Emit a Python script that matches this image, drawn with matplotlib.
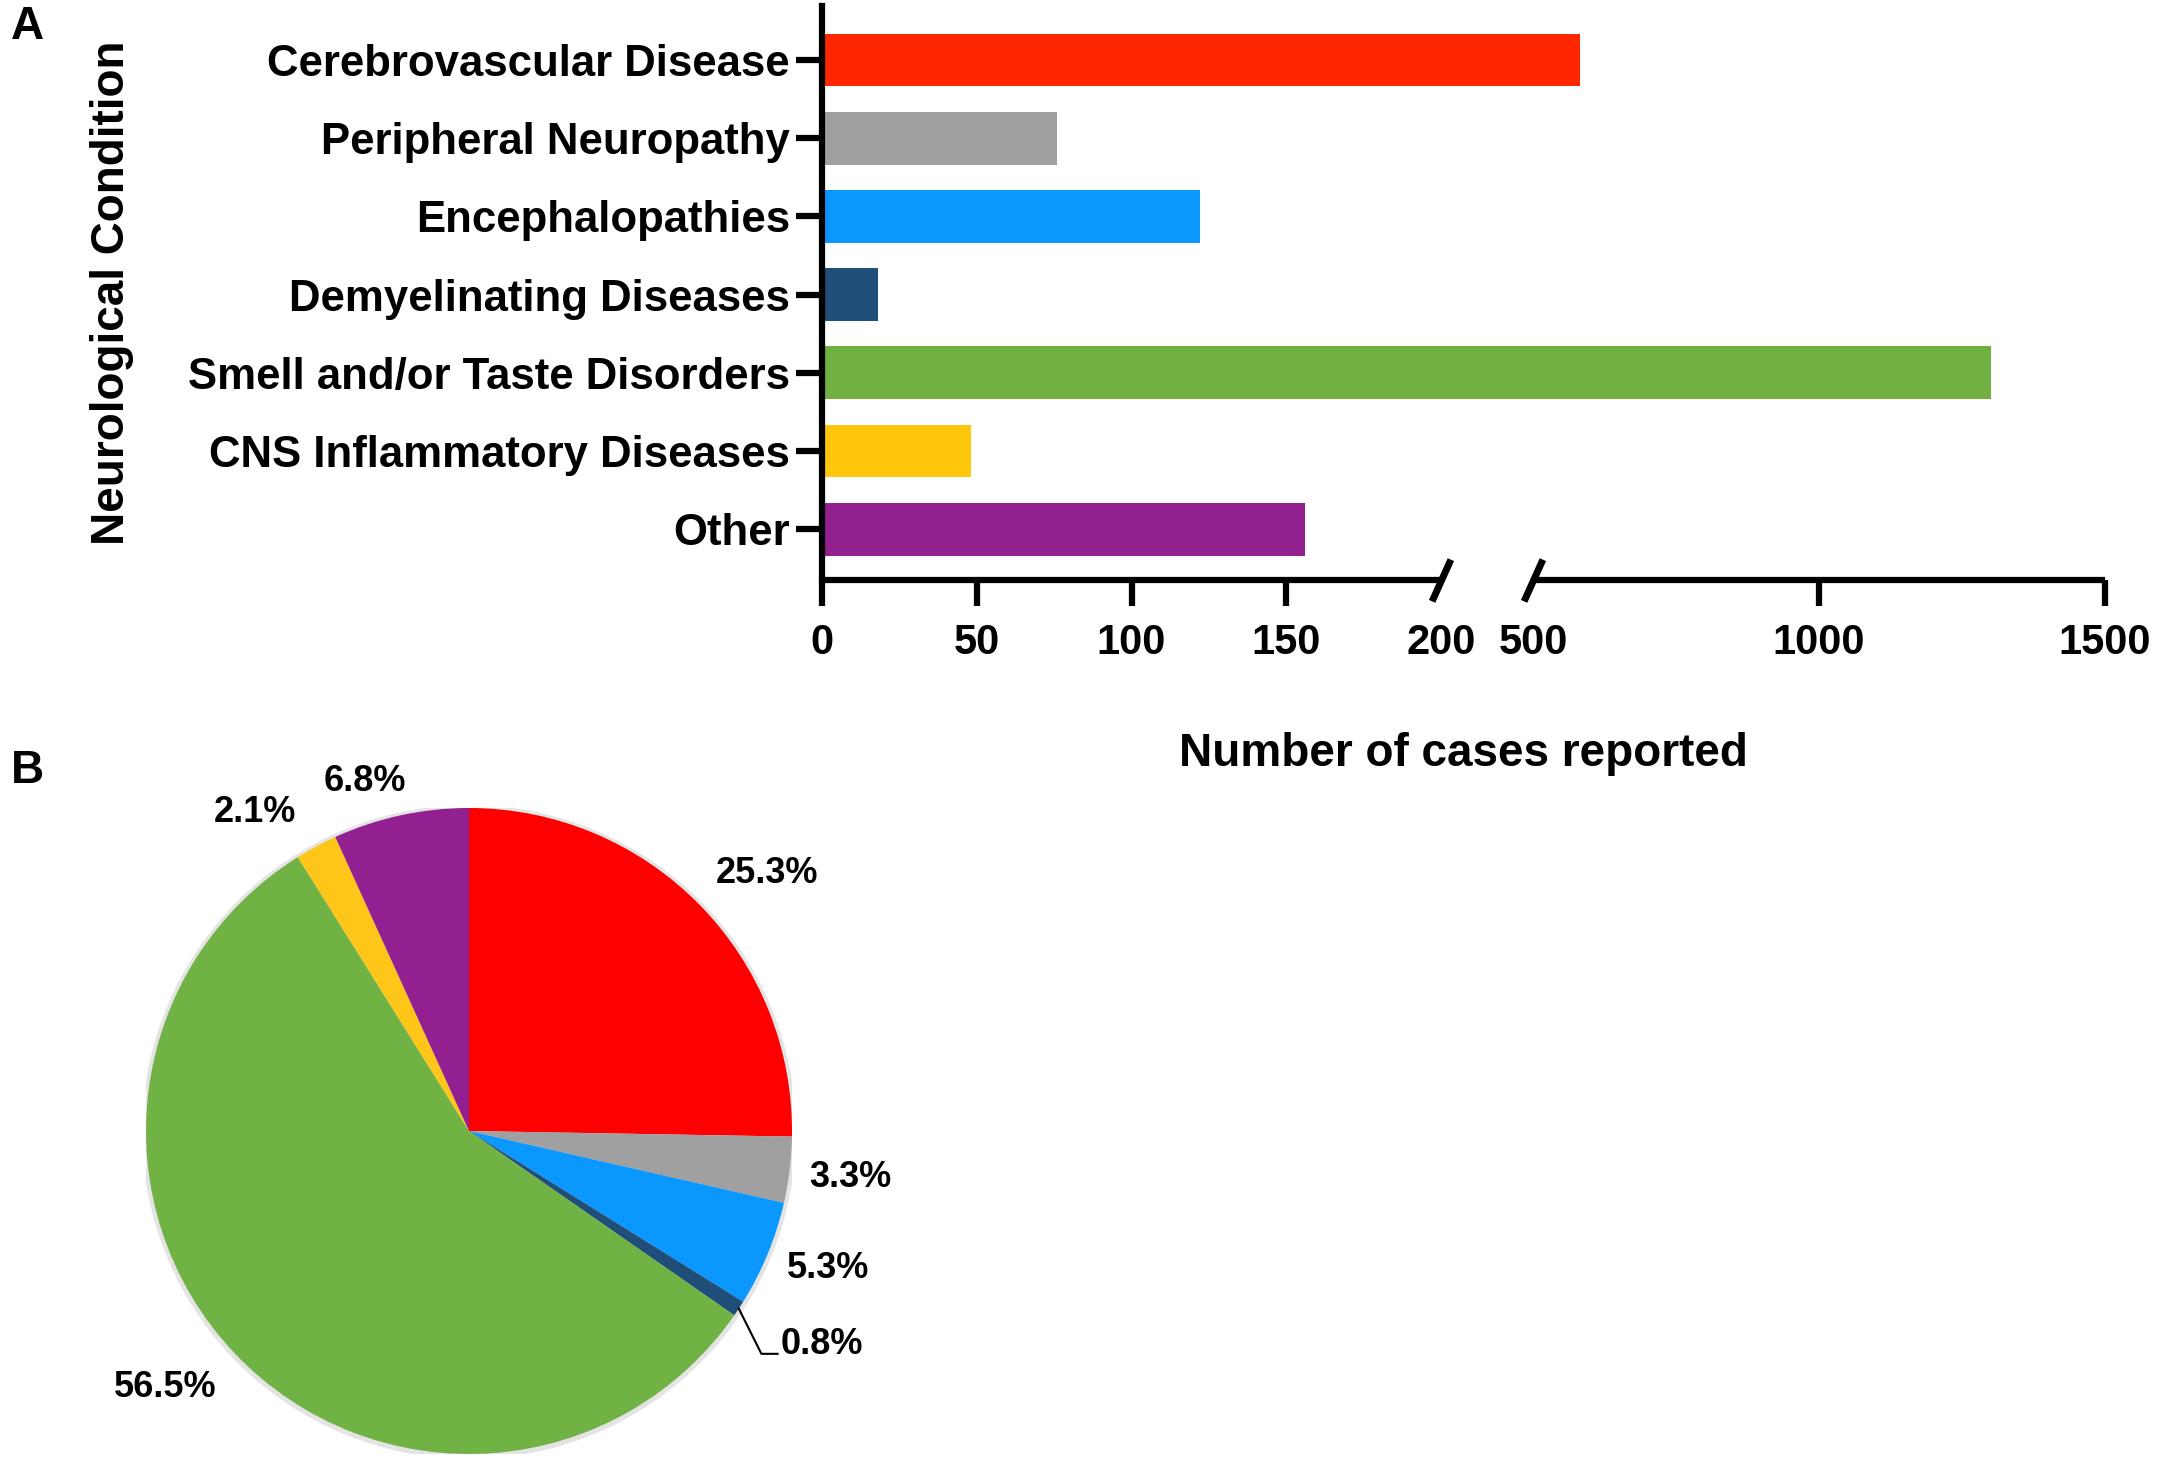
import numpy as np
import matplotlib
matplotlib.use("Agg")
import matplotlib.pyplot as plt

plt.rcParams['font.family'] = ['Liberation Sans', 'DejaVu Sans']
plt.rcParams['font.weight'] = 'bold'

# data
conditions = ["Cerebrovascular Disease", "Peripheral Neuropathy", "Encephalopathies",
              "Demyelinating Diseases", "Smell and/or Taste Disorders",
              "CNS Inflammatory Diseases", "Other"]
cases = [582, 76, 122, 18, 1301, 48, 156]
pie_pct = [25.3, 3.3, 5.3, 0.8, 56.5, 2.1, 6.8]
x_ticks = [0, 50, 100, 150, 200, 500, 1000, 1500]

bar_colors = ["#FF2600", "#A0A0A0", "#0A98FF", "#1F4E79", "#70B041", "#FFC60B", "#92218F"]
pie_colors = ["#FF0000", "#A0A0A0", "#0A98FF", "#1F4E79", "#70B244", "#FFC61A", "#922090"]

W, H = 2158, 1470
fig = plt.figure(figsize=(W / 100, H / 100), dpi=100)

# ---- A: bar chart with broken x axis (piecewise scale) ----
ax = fig.add_axes([822 / W, 1 - 580 / H, (2105 - 822) / W, (580 - 6) / H])
brk_in = [0, 200, 500, 1500]
brk_out = [0, 619, 711, 1283]


def fwd(x):
    return np.interp(x, brk_in, brk_out)


def inv(y):
    return np.interp(y, brk_out, brk_in)


ax.set_xscale('function', functions=(fwd, inv))
y_pos = np.arange(len(conditions))
ax.barh(y_pos, cases, height=0.675, color=bar_colors)
ax.set_xlim(0, 1500)
ax.set_ylim(6.65, -0.69)
ax.set_yticks(y_pos, conditions)
ax.set_xticks(x_ticks, [str(t) for t in x_ticks])
for t in ax.xaxis.get_major_ticks():
    if t.get_loc() in (200, 500):
        t.tick1line.set_visible(False)

for s in ["top", "right", "bottom"]:
    ax.spines[s].set_visible(False)
ax.spines["left"].set_linewidth(4.5)
ax.tick_params(axis="x", length=19, width=4.5, pad=12, labelsize=30)
ax.tick_params(axis="y", length=19, width=4.5, pad=4, labelsize=31.5)

xt = ax.get_xaxis_transform()
ax.plot([0, 200], [0, 0], transform=xt, color="black", lw=4.5, clip_on=False, solid_capstyle="butt")
ax.plot([500, 1500], [0, 0], transform=xt, color="black", lw=4.5, clip_on=False, solid_capstyle="butt")
ax.plot([200, 500], [0, 0], transform=xt, linestyle="none", marker=[(-0.45, -1), (0.45, 1)],
        markersize=30, mew=5, color="black", clip_on=False)

fig.text(1463 / W, 1 - 754 / H, "Number of cases reported", ha="center", va="center", fontsize=33)
fig.text(112 / W, 1 - 293 / H, "Neurological Condition", rotation=90, ha="center", va="center", fontsize=33)
fig.text(27 / W, 1 - 27 / H, "A", ha="center", va="center", fontsize=33)
fig.text(27 / W, 1 - 771 / H, "B", ha="center", va="center", fontsize=33)

# ---- B: pie chart ----
cx, cy, r = 469, 1131, 323
pax = fig.add_axes([(cx - r) / W, 1 - (cy + r) / H, 2 * r / W, 2 * r / H])
pax.add_patch(plt.Circle((0.0, -0.003), 1.01, color="#e4e4e4", zorder=0))
wedges, _ = pax.pie(pie_pct, colors=pie_colors, startangle=90, counterclock=False,
                    wedgeprops=dict(linewidth=0))
pax.set_xlim(-1, 1)
pax.set_ylim(-1, 1)
pax.set_aspect("equal")
pax.axis("off")

label_dist = [1.22, 1.19, 1.19, None, 1.23, 1.19, 1.13]
label_shift = [-3.7, 0, 1.5, 0, -3.4, 5.7, 4.3]
for w, p, d, sh in zip(wedges, pie_pct, label_dist, label_shift):
    ang = np.deg2rad((w.theta1 + w.theta2) / 2 + sh)
    if d is None:
        x0, y0 = np.cos(ang), np.sin(ang)
        pax.plot([x0, x0 + 0.07, x0 + 0.12], [y0, y0 - 0.14, y0 - 0.14], color="black", lw=1.5,
                 clip_on=False)
        pax.text(x0 + 0.13, y0 - 0.11, f"{p}%", ha="left", va="center", fontsize=26)
    else:
        pax.text(d * np.cos(ang), d * np.sin(ang), f"{p}%", ha="center", va="center", fontsize=26)

fig.savefig("out.png", dpi=100)
